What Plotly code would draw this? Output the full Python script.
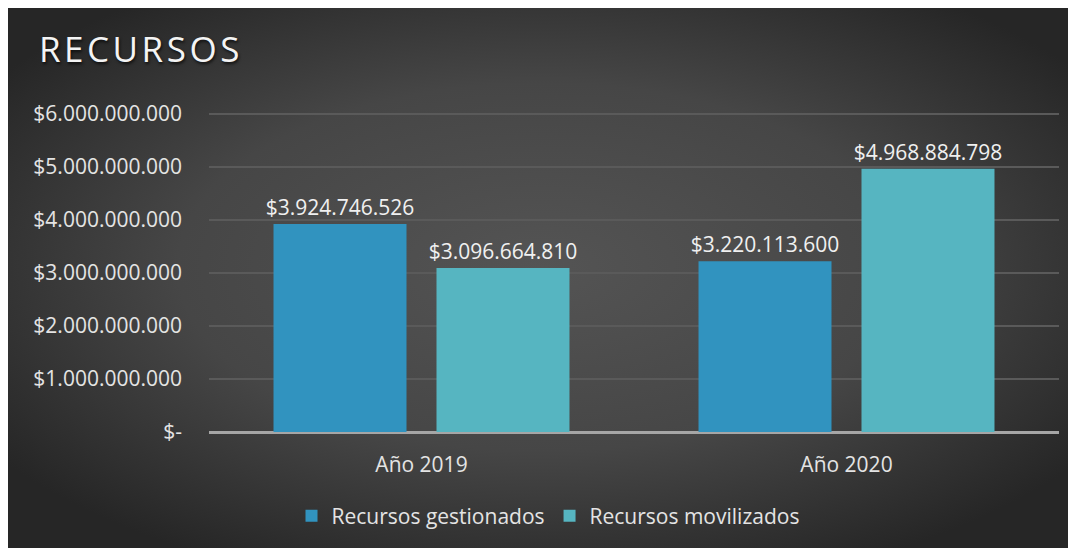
import base64
import plotly.graph_objects as go

# ---- data ----
categories = ["Año 2019", "Año 2020"]
series_names = ["Recursos gestionados", "Recursos movilizados"]
gestionados = [3924746526, 3220113600]
movilizados = [3096664810, 4968884798]
y_tickvals = [0, 1e9, 2e9, 3e9, 4e9, 5e9, 6e9]
y_ticktext = ["$-", "$1.000.000.000", "$2.000.000.000", "$3.000.000.000",
              "$4.000.000.000", "$5.000.000.000", "$6.000.000.000"]
title_text = "RECURSOS"


def fmt(v):
    return "$" + f"{v:,}".replace(",", ".")


W, H = 1068, 540
L, R, T, B = 201, 17, 105, 116
pw, ph = W - L - R, H - T - B

FONT = "Open Sans"
LABEL_COLOR = "#f0f0f0"
FS = 21

svg = ('<svg xmlns="http://www.w3.org/2000/svg" width="1068" height="540" '
       'preserveAspectRatio="none">'
       '<defs><radialGradient id="g" cx="50%" cy="48%" r="62%">'
       '<stop offset="0" stop-color="#545454"/>'
       '<stop offset="0.55" stop-color="#464646"/>'
       '<stop offset="1" stop-color="#262626"/>'
       '</radialGradient></defs>'
       '<rect width="1068" height="540" fill="url(#g)"/></svg>')
bg_src = "data:image/svg+xml;base64," + base64.b64encode(svg.encode()).decode()

fig = go.Figure()
fig.add_trace(go.Bar(
    name=series_names[0], x=categories, y=gestionados,
    marker=dict(color="#3193bf", line=dict(width=0)),
    text=[fmt(v) for v in gestionados], textposition="outside",
    constraintext="none",
    textfont=dict(family=FONT, size=FS, color=LABEL_COLOR),
    cliponaxis=False,
))
fig.add_trace(go.Bar(
    name=series_names[1], x=categories, y=movilizados,
    marker=dict(color="#56b5c1", line=dict(width=0)),
    text=[fmt(v) for v in movilizados], textposition="outside",
    constraintext="none",
    textfont=dict(family=FONT, size=FS, color=LABEL_COLOR),
    cliponaxis=False,
))

fig.update_layout(
    width=W, height=H,
    margin=dict(l=L, r=R, t=T, b=B, pad=0),
    paper_bgcolor="#2e2e2e",
    plot_bgcolor="rgba(0,0,0,0)",
    barmode="group", bargap=0.233, bargroupgap=0.184,
    font=dict(family=FONT, color=LABEL_COLOR, size=FS),
    title=dict(
        text="\u200a".join(title_text),
        x=31 / W, xref="container", xanchor="left",
        y=1 - 42 / H, yref="container", yanchor="middle",
        font=dict(family=FONT, size=35, color="#f4f4f4",
                  shadow="1px 2px 3px rgba(0,0,0,0.7)"),
    ),
    xaxis=dict(
        showgrid=False, showline=False, ticks="",
        tickfont=dict(family=FONT, size=FS, color="#e4e4e4"),
        ticklabelstandoff=18,
    ),
    yaxis=dict(
        range=[0, 6.02e9], tickvals=y_tickvals, ticktext=y_ticktext,
        showgrid=True, gridcolor="#5a5a5a", gridwidth=1.5,
        zeroline=True, zerolinecolor="#a6a6a6", zerolinewidth=2.5,
        showline=False, ticks="",
        tickfont=dict(family=FONT, size=FS, color="#e4e4e4"),
        ticklabelstandoff=26,
    ),
    legend=dict(
        orientation="h", xref="paper", yref="paper",
        x=(540 - L) / pw, xanchor="center",
        y=(H - B - 508) / ph, yanchor="middle",
        font=dict(family=FONT, size=FS, color="#e4e4e4"),
        bgcolor="rgba(0,0,0,0)", itemwidth=30,
        traceorder="normal",
    ),
    images=[dict(
        source=bg_src, xref="paper", yref="paper",
        x=-L / pw, y=1 + T / ph,
        sizex=W / pw, sizey=H / ph,
        xanchor="left", yanchor="top", sizing="stretch", layer="below",
    )],
    showlegend=True,
)

fig.write_html("out.html")
